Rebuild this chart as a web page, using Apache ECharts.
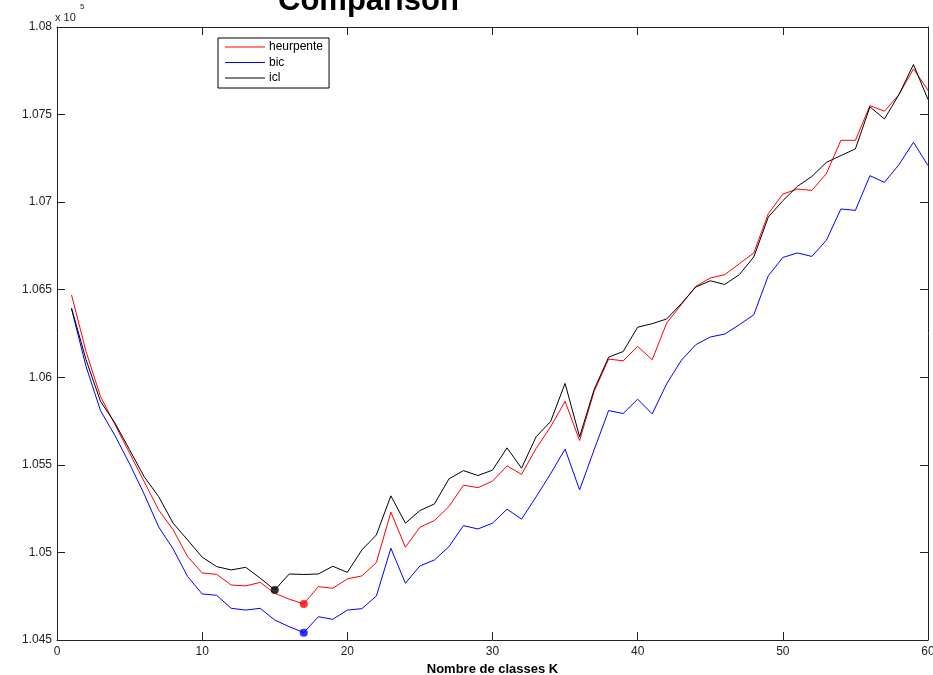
<!DOCTYPE html>
<html>
<head>
<meta charset="utf-8">
<script src="https://cdn.jsdelivr.net/npm/echarts@6/dist/echarts.min.js"></script>
<style>
html,body{margin:0;padding:0;background:#fff;overflow:hidden;}
#chart{width:933px;height:675px;}
</style>
</head>
<body>
<div id="chart"></div>
<script>
const K = [1,2,3,4,5,6,7,8,9,10,11,12,13,14,15,16,17,18,19,20,21,22,23,24,25,26,27,28,29,30,
           31,32,33,34,35,36,37,38,39,40,41,42,43,44,45,46,47,48,49,50,51,52,53,54,55,56,57,58,59,60];

const heurpente = [106471,106147,105890,105729,105567,105405,105243,105129,104976,104883,
                   104875,104814,104809,104829,104767,104733,104706,104805,104795,104849,
                   104866,104942,105230,105030,105144,105182,105262,105384,105370,105407,
                   105494,105446,105593,105717,105862,105639,105919,106104,106094,106176,
                   106100,106310,106414,106519,106567,106586,106648,106710,106934,107046,
                   107075,107067,107163,107353,107353,107551,107519,107614,107761,107639];

const bic = [106390,106062,105809,105666,105506,105334,105146,105020,104862,104763,
             104755,104681,104671,104681,104614,104576,104542,104633,104618,104671,
             104679,104751,105024,104824,104923,104957,105033,105153,105134,105167,
             105247,105190,105317,105449,105590,105357,105586,105810,105793,105875,
             105791,105963,106096,106186,106230,106247,106300,106357,106580,106684,
             106710,106690,106782,106961,106953,107151,107113,107214,107342,107209];

const icl = [106395,106100,105862,105738,105586,105433,105319,105167,105071,104973,
             104919,104900,104915,104853,104786,104877,104874,104877,104921,104886,
             105014,105100,105323,105167,105239,105277,105420,105467,105439,105470,
             105597,105481,105660,105747,105965,105660,105930,106115,106147,106286,
             106306,106333,106420,106515,106551,106530,106586,106687,106915,107008,
             107090,107147,107227,107266,107304,107544,107475,107614,107786,107586];

const seriesNames = ['heurpente', 'bic', 'icl'];
const seriesColors = ['#ff0000', '#0000ff', '#000000'];
const seriesData = [heurpente, bic, icl];

const xTickValues = [0, 10, 20, 30, 40, 50, 60];
const yTickValues = [104500, 105000, 105500, 106000, 106500, 107000, 107500, 108000];

function pairs(arr) { return K.map((k, i) => [k, arr[i]]); }
function minPoint(arr) {
  let idx = 0;
  for (let i = 1; i < arr.length; i++) if (arr[i] < arr[idx]) idx = i;
  return [K[idx], arr[idx]];
}

const chart = echarts.init(document.getElementById('chart'), null, {renderer: 'canvas', width: 933, height: 675});

const axisColor = '#222';
const font = 'Liberation Sans, Arial, sans-serif';

const lineSeries = seriesNames.map((n, i) => ({
  name: n,
  type: 'line',
  data: pairs(seriesData[i]),
  symbol: 'none',
  showSymbol: false,
  lineStyle: {color: seriesColors[i], width: 1},
  itemStyle: {color: seriesColors[i]},
  z: 2 + i,
  animation: false
}));
const minSeries = seriesNames.map((n, i) => ({
  name: n + '_min',
  type: 'scatter',
  data: [minPoint(seriesData[i])],
  symbol: 'circle',
  symbolSize: 8,
  itemStyle: {color: seriesColors[i]},
  z: 10,
  animation: false
}));

const option = {
  backgroundColor: '#fff',
  animation: false,
  grid: {left: 57, right: 5, top: 27, bottom: 35, containLabel: false, outerBoundsMode: 'none'},
  legend: {
    data: seriesNames.map(n => ({name: n, icon: 'path://M0,6.5 L40,6.5 L40,7.5 L0,7.5 Z'})),
    orient: 'vertical',
    left: 218,
    top: 38,
    itemWidth: 40,
    itemHeight: 14,
    itemGap: 3.5,
    padding: [3, 6, 4, 7],
    borderColor: '#000',
    borderWidth: 1,
    backgroundColor: '#fff',
    textStyle: {fontFamily: font, fontSize: 12, color: '#000', padding: [0, 0, 0, -1]},
    selectedMode: false
  },
  xAxis: [{
    type: 'value',
    min: 0, max: 60, interval: 10,
    position: 'bottom',
    name: 'Nombre de classes K',
    nameLocation: 'middle',
    nameGap: 17,
    nameTextStyle: {fontFamily: font, fontSize: 13, fontWeight: 'bold', color: '#000'},
    axisLine: {show: true, onZero: false, lineStyle: {color: axisColor, width: 1}},
    axisTick: {show: true, inside: true, length: 8, lineStyle: {color: axisColor}},
    axisLabel: {show: true, margin: 6, fontFamily: font, fontSize: 12, color: '#222',
                hideOverlap: false,
                formatter: v => xTickValues.includes(v) ? String(v) : ''},
    splitLine: {show: false}
  }, {
    type: 'value',
    min: 0, max: 60, interval: 10,
    position: 'top',
    axisLine: {show: true, onZero: false, lineStyle: {color: axisColor, width: 1}},
    axisTick: {show: true, inside: true, length: 8, lineStyle: {color: axisColor}},
    axisLabel: {show: false},
    splitLine: {show: false}
  }],
  yAxis: [{
    type: 'value',
    min: 104500, max: 108000, interval: 500,
    position: 'left',
    axisLine: {show: true, onZero: false, lineStyle: {color: axisColor, width: 1}},
    axisTick: {show: true, inside: true, length: 8, lineStyle: {color: axisColor}},
    axisLabel: {show: true, margin: 5, fontFamily: font, fontSize: 12, color: '#222',
                formatter: v => yTickValues.includes(v) ? String(parseFloat((v / 1e5).toFixed(3))) : ''},
    splitLine: {show: false}
  }, {
    type: 'value',
    min: 104500, max: 108000, interval: 500,
    position: 'right',
    axisLine: {show: true, onZero: false, lineStyle: {color: axisColor, width: 1}},
    axisTick: {show: true, inside: true, length: 8, lineStyle: {color: axisColor}},
    axisLabel: {show: false},
    splitLine: {show: false}
  }],
  series: lineSeries.concat(minSeries),
  graphic: [
    {type: 'text', left: 370 - 92, top: -14, z: 20,
     style: {text: 'Comparison', font: 'bold 31px ' + font, fill: '#000'}},
    {type: 'text', left: 55, top: 12, z: 20,
     style: {text: 'x 10', font: '11px ' + font, fill: '#222'}},
    {type: 'text', left: 80, top: 3, z: 20,
     style: {text: '5', font: '8px ' + font, fill: '#222'}}
  ]
};

chart.setOption(option);
</script>
</body>
</html>
